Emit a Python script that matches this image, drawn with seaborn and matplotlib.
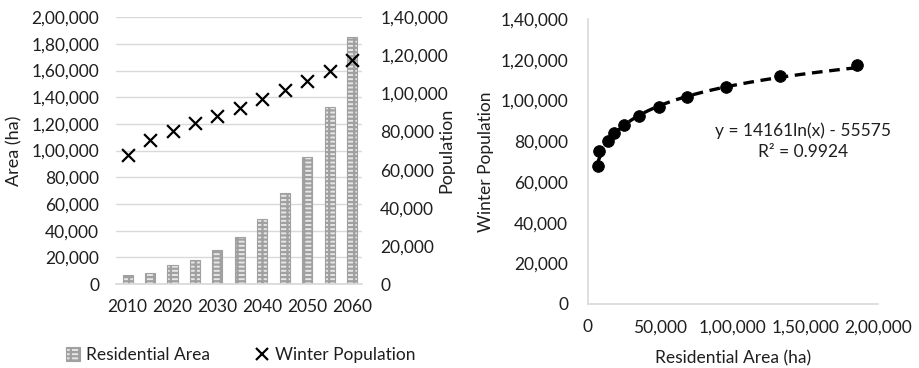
import numpy as np
import pandas as pd
import matplotlib
matplotlib.use("Agg")
import matplotlib.pyplot as plt
from matplotlib.ticker import FuncFormatter, MultipleLocator
from matplotlib.patches import Patch
from matplotlib.lines import Line2D
import seaborn as sns

# Projected residential area (ha) and winter population, 2010-2060
years = [2010, 2015, 2020, 2025, 2030, 2035, 2040, 2045, 2050, 2055, 2060]
residential_area = [7000, 8000, 14200, 18000, 25200, 35200, 48900, 68300, 95000, 132700, 185300]
winter_population = [67900, 75400, 80300, 84300, 88200, 92500, 97000, 101600, 106600, 112000, 117400]
year_labels = ["2010", "2020", "2030", "2040", "2050", "2060"]

# Logarithmic fit as reported on the chart
fit_a, fit_b = 14161, -55575
fit_r2 = 0.9924

df = pd.DataFrame({"year": [str(y) for y in years],
                   "area": residential_area,
                   "population": winter_population})

sns.set_theme(style="white")
plt.rcParams["font.family"] = ["Lato", "DejaVu Sans"]
plt.rcParams["hatch.color"] = "black"
plt.rcParams["hatch.linewidth"] = 1.6
TXT = "#1f1f1f"
GRID = "#d9d9d9"
FS = 12.5
HATCH = "||----"


def indian(v, pos=None):
    n = int(round(v))
    s = str(abs(n))
    if len(s) <= 3:
        return ("-" if n < 0 else "") + s
    last3, rest = s[-3:], s[:-3]
    groups = []
    while len(rest) > 2:
        groups.insert(0, rest[-2:])
        rest = rest[:-2]
    if rest:
        groups.insert(0, rest)
    return ("-" if n < 0 else "") + ",".join(groups + [last3])


fig = plt.figure(figsize=(9.19, 3.68), dpi=100)

# ---- Left: bars (area) with population markers on a twin axis ----
ax1 = fig.add_axes([0.126, 0.228, 0.268, 0.7255])
sns.barplot(data=df, x="year", y="area", ax=ax1, color="#e6e6e6",
            edgecolor="#a0a0a0", linewidth=0.8, width=0.45, hatch=HATCH)
ax1.set_ylim(0, 200000)
ax1.yaxis.set_major_locator(MultipleLocator(20000))
ax1.yaxis.set_major_formatter(FuncFormatter(indian))
ax1.set_xlim(-0.53, 10.45)
ax1.set_xticks(range(0, 11, 2))
ax1.set_xticklabels(year_labels)
ax1.set_xlabel("")
ax1.set_ylabel("Area (ha)", fontsize=FS + 0.5, color=TXT)
ax1.yaxis.set_label_coords(-0.378, 0.5)
ax1.grid(axis="y", color=GRID, linewidth=1)
ax1.set_axisbelow(True)
for side in ["top", "right", "left"]:
    ax1.spines[side].set_visible(False)
ax1.spines["bottom"].set_color(GRID)
ax1.tick_params(axis="both", labelsize=FS, colors=TXT, length=0)
ax1.tick_params(axis="x", pad=11)
ax1.tick_params(axis="y", pad=12)

ax2 = ax1.twinx()
sns.scatterplot(x=np.arange(len(years)), y=winter_population, ax=ax2,
                marker="x", s=85, color="black", linewidth=1.6, zorder=5)
ax2.set_ylim(0, 140000)
ax2.yaxis.set_major_locator(MultipleLocator(20000))
ax2.yaxis.set_major_formatter(FuncFormatter(indian))
ax2.set_ylabel("Population", fontsize=FS + 0.5, color=TXT)
ax2.yaxis.set_label_coords(1.309, 0.5)
for side in ["top", "right", "left", "bottom"]:
    ax2.spines[side].set_visible(False)
ax2.tick_params(axis="y", labelsize=FS, colors=TXT, length=0, pad=13)
ax2.grid(False)

handles = [Patch(facecolor="#e6e6e6", edgecolor="#a0a0a0", hatch=HATCH, linewidth=0.8),
           Line2D([], [], marker="x", linestyle="none", color="black",
                  markersize=9, markeredgewidth=1.6)]
fig.legend(handles, ["Residential Area", "Winter Population"], ncol=2,
           loc="center", bbox_to_anchor=(0.262, 0.035), frameon=False,
           fontsize=FS, labelcolor=TXT, handlelength=0.8, handleheight=0.8,
           handletextpad=0.35, columnspacing=2.6)

# ---- Right: area vs population with logarithmic trend line ----
ax3 = fig.add_axes([0.6395, 0.174, 0.316, 0.7736])
xs = np.linspace(min(residential_area), max(residential_area), 300)
ax3.plot(xs, fit_a * np.log(xs) + fit_b, color="black", linewidth=2.4,
         dashes=(3.2, 2.0), zorder=2)
sns.scatterplot(x=residential_area, y=winter_population, ax=ax3,
                s=70, color="black", edgecolor="black", zorder=3)
ax3.set_xlim(0, 200000)
ax3.set_ylim(0, 140000)
ax3.xaxis.set_major_locator(MultipleLocator(50000))
ax3.yaxis.set_major_locator(MultipleLocator(20000))
ax3.xaxis.set_major_formatter(FuncFormatter(indian))
ax3.yaxis.set_major_formatter(FuncFormatter(indian))
ax3.set_xlabel("Residential Area (ha)", fontsize=FS, color=TXT)
ax3.set_ylabel("Winter Population", fontsize=FS, color=TXT)
ax3.xaxis.set_label_coords(0.5, -0.162)
ax3.yaxis.set_label_coords(-0.323, 0.5)
for side in ["top", "right"]:
    ax3.spines[side].set_visible(False)
for side in ["left", "bottom"]:
    ax3.spines[side].set_color(GRID)
    ax3.spines[side].set_linewidth(1.2)
ax3.tick_params(axis="both", labelsize=FS, colors=TXT, length=0)
ax3.tick_params(axis="x", pad=11)
ax3.tick_params(axis="y", pad=14)
ax3.text(148300, 79900,
         f"y = {fit_a}ln(x) - {abs(fit_b)}\nR\u00b2 = {fit_r2}",
         ha="center", va="center", multialignment="center",
         fontsize=FS, color=TXT, linespacing=1.4)

fig.savefig("out.png", dpi=100)
